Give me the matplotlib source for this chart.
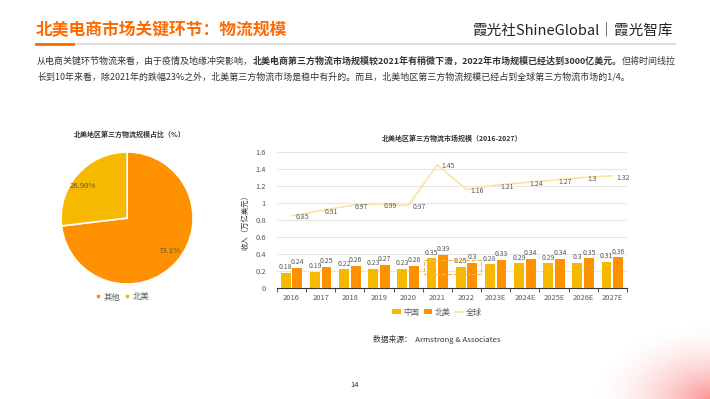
import numpy as np
from matplotlib import pyplot as plt
from matplotlib.patches import Rectangle

plt.rcParams['font.family'] = ['Noto Sans CJK SC', 'DejaVu Sans']

years = ['2016', '2017', '2018', '2019', '2020', '2021', '2022',
         '2023E', '2024E', '2025E', '2026E', '2027E']
china = [0.18, 0.19, 0.22, 0.23, 0.23, 0.35, 0.25, 0.28, 0.29, 0.29, 0.3, 0.31]
north_america = [0.24, 0.25, 0.26, 0.27, 0.26, 0.39, 0.3, 0.33, 0.34, 0.34, 0.35, 0.36]
world = [0.85, 0.91, 0.97, 0.99, 0.97, 1.45, 1.16, 1.21, 1.24, 1.27, 1.3, 1.32]

pie_labels = ['其他', '北美']
pie_values = [73.1, 26.9]
pie_texts = ['73.1%', '26.90%']

orange = '#FF9100'
yellow = '#F7B900'
line_col = '#FBE3A2'
grey_txt = '#595959'

fig = plt.figure(figsize=(7.1, 3.99), dpi=100)

# header
fig.text(36 / 710, 1 - 30 / 399, '北美电商市场关键环节：物流规模', color='#FF6A00',
         fontsize=12.1, fontweight='bold', va='center')
fig.text(673 / 710, 1 - 30 / 399, '霞光社ShineGlobal｜霞光智库', color='#222222',
         fontsize=10.5, va='center', ha='right')
fig.add_artist(plt.Line2D([36 / 710, 675 / 710], [1 - 44 / 399] * 2, color='#D9D9D9', lw=1.3))
fig.add_artist(plt.Line2D([36 / 710, 73 / 710], [1 - 44 / 399] * 2, color='#FF6A00', lw=2))

# body text, first line has a bold middle part
parts = [('从电商关键环节物流来看，由于疫情及地缘冲突影响，', 'normal'),
         ('北美电商第三方物流市场规模较2021年有稍微下滑，2022年市场规模已经达到3000亿美元。', 'bold'),
         ('但将时间线拉', 'normal')]
prev = fig.text(37 / 710, 1 - 61 / 399, parts[0][0], fontsize=6.45, color='#333333',
                va='center')
for txt, wt in parts[1:]:
    prev = fig.add_artist(plt.Annotation(txt, xy=(1, 0.5), xycoords=prev, va='center',
                                         ha='left', fontsize=6.45, color='#333333',
                                         fontweight=wt))
body2 = '长到10年来看，除2021年的跌幅23%之外，北美第三方物流市场是稳中有升的。而且，北美地区第三方物流规模已经占到全球第三方物流市场的1/4。'
fig.text(37 / 710, 1 - 77 / 399, body2, fontsize=6.45, color='#333333', va='center')

# pie
ax1 = fig.add_axes([0.086, 0.288, 0.186, 0.331])
wedges, _ = ax1.pie(pie_values, colors=[orange, yellow], startangle=90, counterclock=False,
                    wedgeprops=dict(edgecolor='white', linewidth=1.2))
ax1.text(0.65, -0.5, pie_texts[0], fontsize=5.6, color=grey_txt, ha='center', va='center')
ax1.text(-0.67, 0.48, pie_texts[1], fontsize=5.6, color=grey_txt, ha='center', va='center')
ax1.set_xlim(-1.0, 1.0)
ax1.set_ylim(-1.0, 1.0)
ax1.set_aspect('equal')
fig.text(130 / 710, 1 - 134 / 399, '北美地区第三方物流规模占比（%）', fontsize=5, color='#333333',
         ha='center', va='center', fontweight='bold')
fig.legend(wedges, pie_labels, loc='center', bbox_to_anchor=(123 / 710, 1 - 297 / 399),
           ncol=2, frameon=False, fontsize=6, handlelength=0.6, handleheight=0.6,
           columnspacing=0.6, handletextpad=0.3, labelcolor=grey_txt)

# bars + line
ax2 = fig.add_axes([0.390, 0.278, 0.493, 0.341])
x = np.arange(len(years))
w = 0.34
b1 = ax2.bar(x - 0.2, china, w, color=yellow, label='中国', zorder=3)
b2 = ax2.bar(x + 0.2, north_america, w, color=orange, label='北美', zorder=3)
l1, = ax2.plot(x, world, color=line_col, lw=1.2, label='全球', zorder=4)
for i in range(len(years)):
    ax2.text(x[i] - 0.2, china[i] + 0.02, str(china[i]), fontsize=5, color=grey_txt,
             ha='center', va='bottom', zorder=5)
    ax2.text(x[i] + 0.2, north_america[i] + 0.02, str(north_america[i]), fontsize=5,
             color=grey_txt, ha='center', va='bottom', zorder=5)
    ax2.text(x[i] + 0.15, world[i] - 0.02, str(world[i]), fontsize=5, color=grey_txt,
             ha='left', va='center', zorder=5)
ax2.add_patch(Rectangle((4.55, 0.165), 1.95, 0.165, fill=False, ls='--', lw=0.8,
                        edgecolor='#FFB347', zorder=6))
ax2.set_xlim(-0.5, len(years) - 0.5)
ax2.set_ylim(0, 1.6)
ax2.set_yticks(np.arange(0, 1.61, 0.2))
ax2.set_yticklabels(['0', '0.2', '0.4', '0.6', '0.8', '1', '1.2', '1.4', '1.6'])
ax2.set_xticks(x)
ax2.set_xticklabels(years)
ax2.set_xticks(np.arange(-0.5, len(years), 1), minor=True)
ax2.tick_params(axis='x', which='major', length=0, labelsize=5.4, labelcolor=grey_txt, pad=4)
ax2.tick_params(axis='x', which='minor', length=3, color='#333333', width=0.6)
ax2.tick_params(axis='y', length=0, labelsize=5.4, labelcolor=grey_txt, pad=8)
ax2.grid(axis='y', color='#E6E6E6', lw=0.8, zorder=0)
for s in ['top', 'right', 'left']:
    ax2.spines[s].set_visible(False)
ax2.spines['bottom'].set_color('#333333')
ax2.spines['bottom'].set_linewidth(0.8)
ax2.set_ylabel('收入（万亿美元）', fontsize=5.3, color='#333333', labelpad=4)
ax2.set_title('北美地区第三方物流市场规模（2016-2027）', fontsize=5, color='#333333',
              fontweight='bold', pad=8)
fig.legend([b1, b2, l1], ['中国', '北美', '全球'], loc='center',
           bbox_to_anchor=(437 / 710, 1 - 312 / 399), ncol=3, frameon=False, fontsize=5.8,
           handlelength=1.0, handleheight=0.6, columnspacing=0.6, handletextpad=0.3,
           labelcolor=grey_txt)

fig.text(437 / 710, 1 - 340 / 399, '数据来源：  Armstrong & Associates', fontsize=5.6,
         color='#333333', ha='center', va='center')
fig.text(355 / 710, 1 - 385 / 399, '14', fontsize=5.5, color='#333333', ha='center', va='center')

# pink corner glow
axg = fig.add_axes([590 / 710, 0, 120 / 710, 90 / 399])
gx, gy = np.meshgrid(np.linspace(0, 1, 120), np.linspace(0, 1, 90))
d = np.sqrt((1 - gx) ** 2 + (gy) ** 2 * 1.3)
alpha = np.clip(1 - d / 1.0, 0, 1) ** 1.8 * 0.75
img = np.zeros((90, 120, 4))
img[..., 0] = 0.98
img[..., 1] = 0.45
img[..., 2] = 0.45
img[..., 3] = alpha
axg.imshow(img, origin='lower', aspect='auto', extent=(0, 1, 0, 1))
axg.axis('off')

fig.savefig('out.png', dpi=100)
